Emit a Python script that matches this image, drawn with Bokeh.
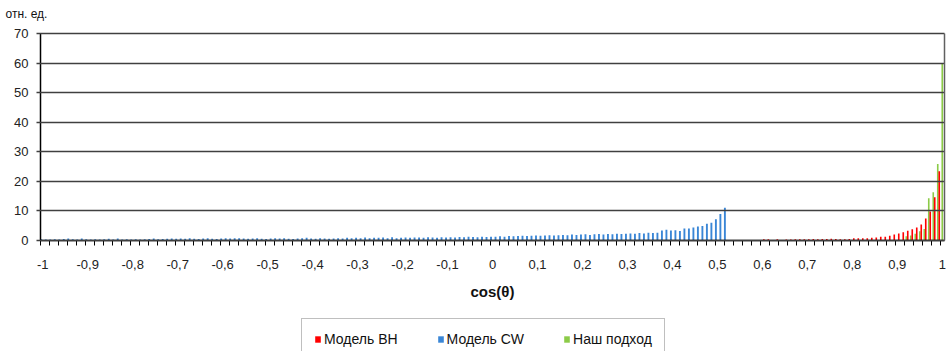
from bokeh.plotting import figure
from bokeh.models import (Range1d, FixedTicker, Legend, LegendItem, ColumnDataSource, LinearAxis)
from bokeh.transform import dodge
from bokeh.embed import file_html
from bokeh.resources import INLINE

# ---- data ----
# categories: cos(theta) from -1 to 1 with a step of 0.01
cat_start = -1.0
cat_step = 0.01
n_cats = 201

# Model CW (blue), starting at cos = -1.00
cw_start = -1.0
cw_values = [
    0.4, 0.3, 0.3, 0.4, 0.3, 0.5, 0.7, 0.4, 0.3, 0.7,
    0.4, 0.3, 0.4, 0.3, 0.4, 0.6, 0.3, 0.7, 0.3, 0.4,
    0.3, 0.4, 0.3, 0.4, 0.5, 0.7, 0.4, 0.5, 0.6, 0.7,
    0.6, 0.7, 0.6, 0.8, 0.6, 0.5, 0.7, 0.8, 0.6, 0.5,
    0.7, 0.8, 0.7, 0.8, 0.8, 0.7, 0.6, 0.7, 0.8, 0.6,
    0.5, 0.7, 0.8, 0.7, 0.8, 0.6, 0.5, 0.7, 0.8, 0.9,
    0.7, 0.6, 0.8, 0.7, 0.6, 0.7, 0.8, 0.7, 0.9, 0.8,
    0.9, 0.8, 1.0, 0.8, 0.9, 0.9, 1.0, 0.8, 1.1, 0.8,
    0.9, 1.0, 0.9, 1.0, 1.0, 0.9, 1.1, 1.0, 0.9, 1.1,
    1.0, 1.1, 1.0, 1.2, 1.1, 1.3, 1.2, 1.1, 1.3, 1.2,
    1.3, 1.3, 1.4, 1.3, 1.5, 1.4, 1.5, 1.6, 1.5, 1.6,
    1.7, 1.6, 1.7, 1.8, 1.7, 1.8, 1.9, 1.8, 2.0, 1.9,
    2.0, 2.1, 1.9, 2.1, 2.2, 2.0, 2.2, 2.1, 2.3, 2.2,
    2.3, 2.4, 2.3, 2.5, 2.4, 2.6, 2.5, 2.6, 3.4, 3.6,
    3.4, 3.5, 3.2, 4.1, 4.1, 4.4, 4.7, 4.9, 5.7, 6.0,
    7.2, 9.0, 11.1,
]

# Model BH (red), starting at cos = 0.60
bh_start = 0.60
bh_values = [
    0.4, 0.4, 0.0, 0.4, 0.0, 0.3, 0.3, 0.4, 0.4, 0.4,
    0.4, 0.5, 0.4, 0.5, 0.5, 0.6, 0.5, 0.4, 0.4, 0.5,
    0.8, 0.8, 0.8, 0.8, 0.9, 1.0, 1.3, 1.3, 1.6, 2.0,
    2.4, 2.8, 3.3, 3.8, 4.4, 5.4, 7.4, 9.8, 14.6, 23.4,
    0.0,
]

# Our approach (green), starting at cos = 0.92
our_start = 0.92
our_values = [1.4, 1.7, 2.3, 3.1, 3.9, 14.3, 16.3, 25.9, 60.0]

series_names = ["Модель BH", "Модель CW", "Наш подход"]
series_colors = ["#FF0000", "#3A86D6", "#8CCB48"]

x_tick_values = [round(-1 + 0.1 * i, 1) for i in range(21)]
x_tick_labels = ["-1", "-0,9", "-0,8", "-0,7", "-0,6", "-0,5", "-0,4", "-0,3", "-0,2", "-0,1",
                 "0", "0,1", "0,2", "0,3", "0,4", "0,5", "0,6", "0,7", "0,8", "0,9", "1"]
y_tick_values = [0, 10, 20, 30, 40, 50, 60, 70]

FONT = "Liberation Sans"


def cats(start, n):
    return [round(start + cat_step * i, 2) for i in range(n)]


# ---- layout (pixels) ----
W, H = 948, 351
FRAME_TOP = 24                 # canvas row where the drawing area starts
AREA_L, AREA_R = 40, 944       # plot-area edges (columns)
AREA_T, AREA_B = 33, 240       # rows of the 70 and 0 lines

half = cat_step / 2
x_lo = cat_start - half
x_hi = cat_start + cat_step * (n_cats - 1) + half
y_max = 70

sx = (x_hi - x_lo) / (AREA_R - AREA_L)
sy = y_max / (AREA_B - AREA_T)
x_start = x_lo - AREA_L * sx
x_end = x_hi + (W - AREA_R) * sx
y_end = y_max + (AREA_T - FRAME_TOP) * sy
y_start = -(H - AREA_B) * sy

p = figure(width=W, height=H,
           min_border_left=0, min_border_right=0, min_border_top=FRAME_TOP, min_border_bottom=0,
           x_range=Range1d(x_start, x_end), y_range=Range1d(y_start, y_end),
           output_backend="svg", toolbar_location=None,
           background_fill_color="white", border_fill_color="white")

off = 0.0033
src_bh = ColumnDataSource(dict(x=cats(bh_start, len(bh_values)), top=bh_values))
src_cw = ColumnDataSource(dict(x=cats(cw_start, len(cw_values)), top=cw_values))
src_our = ColumnDataSource(dict(x=cats(our_start, len(our_values)), top=our_values))

r_cw = p.vbar(x=dodge("x", -off, range=p.x_range), top="top", bottom=0, width=0.0042,
              source=src_cw, fill_color=series_colors[1], line_color=None)
r_our = p.vbar(x=dodge("x", 0.0, range=p.x_range), top="top", bottom=0, width=0.0036,
               source=src_our, fill_color=series_colors[2], line_color=None)
r_bh = p.vbar(x=dodge("x", off, range=p.x_range), top="top", bottom=0, width=0.0036,
              source=src_bh, fill_color=series_colors[0], line_color=None)

# title "отн. ед."
p.title.text = "отн. ед."
p.title.text_font = FONT
p.title.text_font_size = "12px"
p.title.text_font_style = "normal"
p.title.text_color = "#111111"
p.title.align = "left"
p.title.offset = 5
p.title.standoff = 7

# x axis, fixed at value 0
xa = p.xaxis[0]
xa.fixed_location = 0
xa.bounds = (x_lo, x_hi)
xa.ticker = FixedTicker(ticks=x_tick_values,
                        minor_ticks=[x_lo + 0.02 * j for j in range(101)])
xa.major_label_overrides = dict(zip(x_tick_values, x_tick_labels))
xa.major_tick_line_color = None
xa.major_tick_out = 5
xa.major_tick_in = 0
xa.minor_tick_line_color = "#000000"
xa.minor_tick_out = 5
xa.minor_tick_in = 0
xa.axis_line_color = "#000000"
xa.axis_line_width = 1.5
xa.major_label_text_font = FONT
xa.major_label_text_font_size = "13px"
xa.major_label_text_color = "#222222"
xa.major_label_standoff = 14
xa.axis_label = "cos(θ)"
xa.axis_label_text_font = FONT
xa.axis_label_text_font_size = "15px"
xa.axis_label_text_font_style = "bold"
xa.axis_label_text_color = "#111111"
xa.axis_label_standoff = 11

# y axis, fixed at the left edge of the plot area; its inner ticks form the grid lines
ya = p.yaxis[0]
ya.fixed_location = x_lo
ya.bounds = (0, y_max)
ya.ticker = FixedTicker(ticks=y_tick_values)
ya.major_tick_out = 4
ya.major_tick_in = AREA_R - AREA_L
ya.major_tick_line_color = "#404040"
ya.major_tick_line_width = 1.5
ya.minor_tick_line_color = None
ya.axis_line_color = "#000000"
ya.axis_line_width = 1.5
ya.major_label_text_font = FONT
ya.major_label_text_font_size = "13px"
ya.major_label_text_color = "#222222"
ya.major_label_standoff = 8

# right border of the plot area (0..70)
ra = LinearAxis(ticker=FixedTicker(ticks=[]), bounds=(0, y_max), fixed_location=x_hi,
                axis_line_color="#606060", axis_line_width=1.5,
                major_tick_line_color=None, minor_tick_line_color=None,
                major_tick_out=0, major_tick_in=0, minor_tick_out=0,
                major_label_text_font_size="0px", major_label_standoff=0)
p.add_layout(ra, "right")

p.xgrid.visible = False
p.ygrid.visible = False
p.outline_line_color = None

legend = Legend(items=[LegendItem(label=series_names[0], renderers=[r_bh]),
                       LegendItem(label=series_names[1], renderers=[r_cw]),
                       LegendItem(label=series_names[2], renderers=[r_our])],
                orientation="horizontal", location=(301, -9),
                spacing=39, padding=12, label_standoff=3,
                glyph_width=7, glyph_height=8,
                label_text_font=FONT, label_text_font_size="14px",
                label_text_color="#111111",
                border_line_color="#808080", border_line_width=1,
                background_fill_color="white", margin=0)
p.add_layout(legend, "center")

open("out.html", "w").write(file_html(p, INLINE))
